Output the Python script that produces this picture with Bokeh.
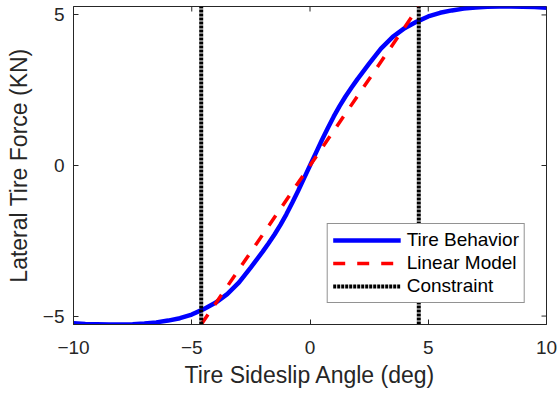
import math
from bokeh.plotting import figure
from bokeh.models import Range1d, FixedTicker, Legend, LegendItem
from bokeh.embed import file_html
from bokeh.resources import INLINE

# Tire sideslip angle (deg) and lateral tire force (kN)
angle = [-10, -9.5, -9, -8.5, -8, -7.5, -7, -6.5, -6, -5.5, -5, -4.5, -4, -3.5, -3,
         -2.5, -2, -1.75, -1.5, -1.25, -1, -0.75, -0.5, -0.25, 0,
         0.25, 0.5, 0.75, 1, 1.25, 1.5, 1.75, 2, 2.5, 3, 3.5, 4, 4.5, 5,
         5.5, 6, 6.5, 7, 7.5, 8, 8.5, 9, 9.5, 10]
force = [-5.24, -5.26, -5.27, -5.28, -5.28, -5.27, -5.25, -5.21, -5.15, -5.07, -4.95,
         -4.77, -4.56, -4.27, -3.88, -3.38, -2.86, -2.58, -2.29, -1.97, -1.62,
         -1.24, -0.84, -0.42, 0.0,
         0.42, 0.84, 1.24, 1.62, 1.97, 2.29, 2.58, 2.86, 3.38, 3.88, 4.27, 4.56,
         4.77, 4.95, 5.07, 5.15, 5.21, 5.25, 5.27, 5.28, 5.28, 5.27, 5.26, 5.24]

# Linear model end points
lin_angle = [-4.6, 4.6]
lin_force = [-5.28, 5.28]

# Constraint angles
constraint_angle = [-4.6, 4.6]

x_ticks = [-10, -5, 0, 5, 10]
y_ticks = [-5, 0, 5]
x_lim = (-10, 10)
y_lim = (-5.28, 5.28)

FONT = "Liberation Sans"
DARK = "#262626"

p = figure(width=560, height=396, output_backend="svg", toolbar_location=None,
           x_range=Range1d(*x_lim), y_range=Range1d(*y_lim),
           min_border_left=73, min_border_right=14, min_border_top=6,
           min_border_bottom=72, background_fill_color="white",
           border_fill_color="white")

p.grid.visible = False
p.outline_line_color = DARK
p.outline_line_width = 1

p.xaxis.ticker = FixedTicker(ticks=x_ticks)
p.yaxis.ticker = FixedTicker(ticks=y_ticks)

for ax in list(p.xaxis) + list(p.yaxis):
    ax.major_tick_in = 5
    ax.major_tick_out = 0
    ax.minor_tick_line_color = None
    ax.axis_line_color = DARK
    ax.major_tick_line_color = DARK
    ax.major_label_text_font = FONT
    ax.major_label_text_font_size = "19px"
    ax.major_label_text_color = DARK
    ax.axis_label_text_font = FONT
    ax.axis_label_text_font_size = "23px"
    ax.axis_label_text_font_style = "normal"
    ax.axis_label_text_color = DARK

p.xaxis.axis_label = "Tire Sideslip Angle (deg)"
p.yaxis.axis_label = "Lateral Tire Force (KN)"
p.xaxis.major_label_standoff = 16
p.xaxis.axis_label_standoff = 5
p.yaxis.major_label_standoff = 9
p.yaxis.axis_label_standoff = 8

# Inward ticks on the top and right edges of the box (markers clipped by the frame)
p.scatter(x=x_ticks, y=[y_lim[1]] * len(x_ticks), marker="dash", size=10,
          angle=math.pi / 2, line_color=DARK, line_width=1)
p.scatter(x=[x_lim[1]] * len(y_ticks), y=y_ticks, marker="dash", size=10,
          line_color=DARK, line_width=1)

r_tire = p.line(angle, force, line_color="#0000ff", line_width=4.5)
r_lin = p.line(lin_angle, lin_force, line_color="#ff0000", line_width=3.5,
               line_dash="12 12")
r_con = p.multi_line(xs=[[c, c] for c in constraint_angle],
                     ys=[[y_lim[0], y_lim[1]] for _ in constraint_angle],
                     line_color="black", line_width=4, line_dash="3 1")

legend = Legend(items=[LegendItem(label="Tire Behavior", renderers=[r_tire]),
                       LegendItem(label="Linear Model", renderers=[r_lin]),
                       LegendItem(label="Constraint", renderers=[r_con])],
                location="bottom_right")
legend.margin = 21
legend.glyph_width = 68
legend.glyph_height = 20
legend.label_height = 20
legend.spacing = 1
legend.padding = 5
legend.label_standoff = 6
legend.border_line_color = DARK
legend.border_line_width = 1
legend.background_fill_color = "white"
legend.background_fill_alpha = 1
legend.label_text_font = FONT
legend.label_text_font_size = "19px"
legend.label_text_color = "black"
p.add_layout(legend)

open("out.html", "w").write(file_html(p, INLINE))
